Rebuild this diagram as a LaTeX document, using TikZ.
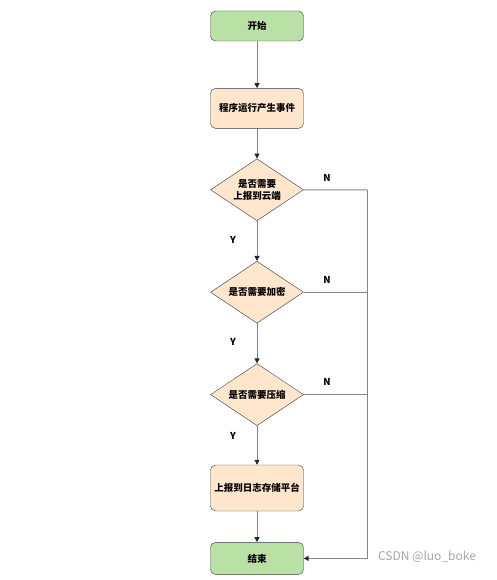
\documentclass[tikz,border=0pt]{standalone}
\usepackage{fontspec}
\usepackage{tikz}
\usetikzlibrary{arrows.meta,positioning,shapes.geometric}
\newfontfamily\cjk{Noto Sans CJK SC}
\definecolor{Leaf}{HTML}{B9E0A5}
\definecolor{Peach}{HTML}{FFE6CC}
\definecolor{Edge}{HTML}{36393D}
\definecolor{Wire}{HTML}{858585}
\tikzset{
  stepbox/.style={draw=Edge, rounded corners=5pt, minimum width=93pt,
    minimum height=40pt, align=center, font=\cjk\bfseries\fontsize{9.5}{12}\selectfont,
    fill=#1},
  stepbox/.default={Peach},
  decide/.style={diamond, draw=Edge, fill=Peach, aspect=1.5, inner sep=0pt,
    minimum width=93pt, minimum height=62pt, align=center,
    font=\cjk\bfseries\fontsize{9.5}{12}\selectfont},
  flow/.style={-{Triangle[length=5pt,width=5pt,color=black!85]}, Wire, line width=1pt},
  wire/.style={Wire, line width=1pt},
  yn/.style={font=\cjk\bfseries\fontsize{9.5}{11}\selectfont},
}

\begin{document}
\begin{tikzpicture}[x=1pt, y=-1pt]
  \useasboundingbox (0,0) rectangle (496,580);
  \node[stepbox=Leaf, minimum height=30pt] (start) at (257,26) {开始};
  \node[stepbox, below=47pt of start] (event) {程序运行产生事件};
  \node[decide, below=30pt of event] (cloud) {是否需要\\上报到云端};
  \node[decide, below=40pt of cloud] (crypt) {是否需要加密};
  \node[decide, below=40pt of crypt] (zip) {是否需要压缩};
  \node[stepbox, minimum height=46pt, below=39pt of zip] (store) {上报到日志存储平台};
  \node[stepbox=Leaf, minimum height=32pt, below=31pt of store] (stop) {结束};
  \coordinate (bus) at (367,190);

  \draw[flow] (start) -- (event);
  \draw[flow] (event) -- (cloud);
  \draw[flow] (cloud) -- (crypt);
  \draw[flow] (crypt) -- (zip);
  \draw[flow] (zip) -- (store);
  \draw[flow] (store) -- (stop);
  % N branches join the bus on the right
  \draw[wire] (cloud.east) -- (bus);
  \draw[wire] (crypt.east) -- (crypt.east -| bus);
  \draw[wire] (zip.east) -- (zip.east -| bus);
  \draw[flow] (bus) |- (stop.east);

  \node[yn] (n1) at (327,178) {N};
  \node[yn] (n2) at (327,280) {N};
  \node[yn] (n3) at (327,382) {N};
  \node[yn] (y1) at (233,240) {Y};
  \node[yn] (y2) at (233,342) {Y};
  \node[yn] (y3) at (233,436) {Y};
  \node[font=\cjk\fontsize{12}{14}\selectfont, text=gray!70] (mark) at (427,557) {CSDN @luo\_boke};
\end{tikzpicture}
\end{document}
